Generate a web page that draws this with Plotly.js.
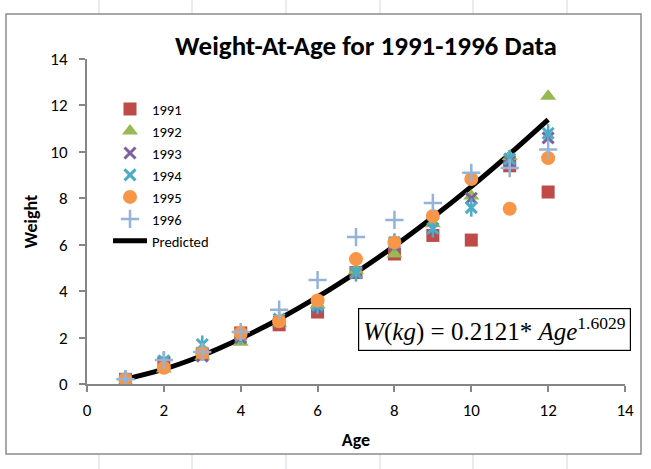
<!DOCTYPE html>
<html><head><meta charset="utf-8">
<script src="https://cdn.plot.ly/plotly-3.0.1.min.js"></script>
<style>html,body{margin:0;padding:0;background:#fff}#chart{width:651px;height:469px}</style>
</head><body><div id="chart"></div>
<script>
// ---- data ----
const ages = [1,2,3,4,5,6,7,8,9,10,11,12];
const w1991 = [0.20,0.90,1.30,2.20,2.55,3.10,4.80,5.60,6.40,6.20,9.40,8.27];
const w1992 = [0.10,0.65,1.20,1.80,2.60,3.40,4.90,5.60,6.90,8.10,9.80,12.40];
const w1993 = [0.10,0.90,1.20,2.00,2.70,3.30,4.80,6.00,6.70,8.00,9.60,10.60];
const w1994 = [0.20,1.00,1.70,2.10,2.80,3.40,4.80,6.10,6.70,7.60,9.70,10.80];
const w1995 = [0.20,0.70,1.33,2.20,2.70,3.60,5.38,6.10,7.24,8.83,7.55,9.73];
const w1996 = [0.20,1.03,1.38,2.24,3.20,4.48,6.33,7.07,7.80,9.10,9.30,10.10];
const predicted = [0.21,0.64,1.23,1.96,2.80,3.75,4.80,5.94,7.18,8.50,9.91,11.39];
const seriesNames = ['1991','1992','1993','1994','1995','1996','Predicted'];
const xTicks = [0,2,4,6,8,10,12,14];
const yTicks = [0,2,4,6,8,10,12,14];

// ---- layout helpers (pixel -> paper) ----
const PL = 87, PR = 625, PT = 59, PB = 384;
const px = x => (x - PL) / (PR - PL);
const py = y => (PB - y) / (PB - PT);

const font = "Carlito, Calibri, 'Liberation Sans Narrow', 'Liberation Sans', sans-serif";

function mk(name, y, symbol, color, size, lw, group, showlegend, rank) {
  return {
    x: ages, y: y, name: name, type: 'scatter', mode: 'markers',
    legendgroup: group, showlegend: showlegend, legendrank: rank,
    marker: {symbol: symbol, color: color, size: size,
      line: {color: color, width: lw}}
  };
}

const traces = [
  {x: ages, y: predicted, name: seriesNames[6], type: 'scatter', mode: 'lines',
   legendgroup: 'g7', legendrank: 7,
   line: {color: '#000000', width: 5, shape: 'spline'}},
  mk(seriesNames[0], w1991, 'square', '#BE4B48', 13, 0, 'g1', true, 1),
  mk(seriesNames[1], w1992, 'triangle-up', '#98B954', 14, 0, 'g2', true, 2),
  mk(seriesNames[2], w1993, 'x-thin-open', '#7D60A0', 11, 3, 'g3', true, 3),
  mk(seriesNames[3], w1994, 'x-thin-open', '#4BACC6', 11, 3, 'g4', true, 4),
  mk(seriesNames[3], w1994, 'line-ns-open', '#4BACC6', 13, 2.5, 'g4', false, 4),
  mk(seriesNames[4], w1995, 'circle', '#F79646', 14, 0, 'g5', true, 5),
  mk(seriesNames[5], w1996, 'cross-thin-open', '#95B3D7', 13, 2.5, 'g6', true, 6)
];

const shapes = [];
// spreadsheet cell grid lines visible around the chart
[99,192,286,380,473,567].forEach(gx => {
  shapes.push({type:'line', xref:'paper', yref:'paper', x0:px(gx), x1:px(gx), y0:py(0), y1:py(14), line:{color:'#D0D7E5', width:1}, layer:'below'});
  shapes.push({type:'line', xref:'paper', yref:'paper', x0:px(gx), x1:px(gx), y0:py(454), y1:py(469), line:{color:'#D0D7E5', width:1}, layer:'below'});
});
// chart area border
shapes.push({type:'rect', xref:'paper', yref:'paper', x0:px(6), x1:px(641), y0:py(454), y1:py(14), line:{color:'#8C8C8C', width:1.5}, layer:'below'});

const axisCommon = {
  range: [0,14], tickmode: 'array', showgrid: false, zeroline: false,
  showline: true, linecolor: '#868686', linewidth: 2,
  ticks: 'outside', ticklen: 6, tickwidth: 2, tickcolor: '#868686',
  tickfont: {family: font, size: 17, color: '#000'}
};

const layout = {
  width: 651, height: 469,
  margin: {l: PL, r: 651 - PR, t: PT, b: 469 - PB},
  paper_bgcolor: '#ffffff', plot_bgcolor: '#ffffff',
  title: {text: '<b>Weight-At-Age for 1991-1996 Data</b>', font: {family: font, size: 27, color: '#000'},
    x: px(366), xref: 'paper', xanchor: 'center', y: 1 - 46/469, yanchor: 'middle'},
  xaxis: Object.assign({}, axisCommon, {tickvals: xTicks, ticktext: xTicks.map(String),
    ticklabelstandoff: 4,
    title: {text: '<b>Age</b>', font: {family: font, size: 18, color: '#000'}, standoff: 13}}),
  yaxis: Object.assign({}, axisCommon, {tickvals: yTicks, ticktext: yTicks.map(String),
    ticklabelstandoff: 8,
    title: {text: '<b>Weight</b>', font: {family: font, size: 18, color: '#000'}, standoff: 8}}),
  showlegend: true,
  legend: {x: px(108), y: py(93), xanchor: 'left', yanchor: 'top', bgcolor: 'rgba(0,0,0,0)',
    font: {family: font, size: 14.6, color: '#000'}, tracegroupgap: 0, traceorder: 'grouped',
    itemwidth: 34},
  shapes: shapes,
  annotations: [{
    xref: 'paper', yref: 'paper', x: px(494), y: py(329), xanchor: 'center', yanchor: 'middle',
    text: '<i>W</i>(<i>kg</i>) = 0.2121* <i>Age</i><sup>1.6029</sup>', showarrow: false,
    font: {family: "'Liberation Serif', 'DejaVu Serif', serif", size: 25, color: '#000'},
    bordercolor: '#000', borderwidth: 1.2, borderpad: 4, bgcolor: '#fff'
  }]
};

Plotly.newPlot('chart', traces, layout, {displayModeBar: false, staticPlot: true});
</script>
</body></html>
